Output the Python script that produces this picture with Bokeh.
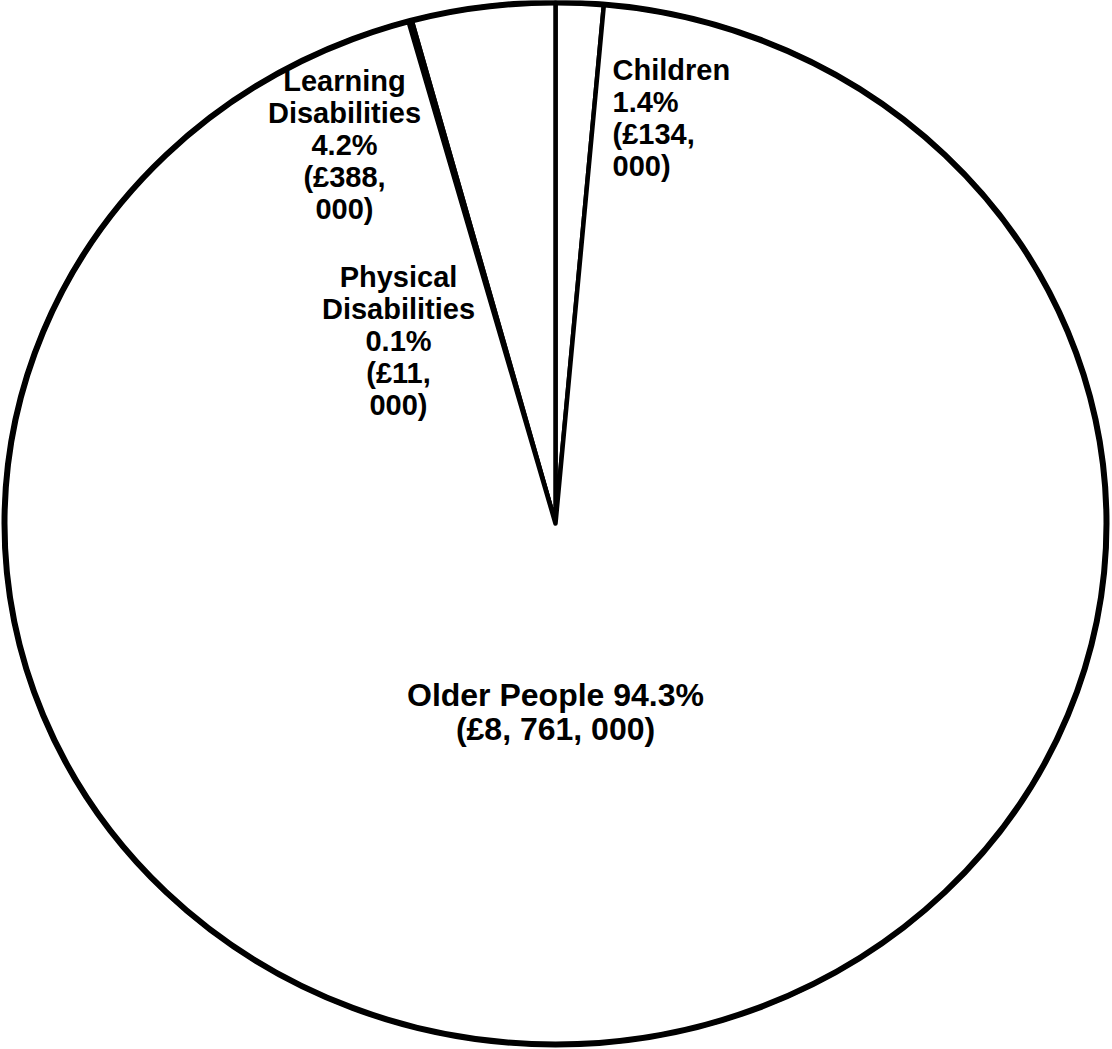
import numpy as np
from bokeh.plotting import figure
from bokeh.models import ColumnDataSource, Range1d
from bokeh.core.properties import value
from bokeh.embed import file_html
from bokeh.resources import INLINE

# Spend by client group
categories = ["Children", "Learning Disabilities", "Physical Disabilities", "Older People"]
shares = [1.4, 4.2, 0.1, 94.3]                 # percent of total
amounts = [134000, 388000, 11000, 8761000]     # pounds

# Canvas and pie geometry (pixels)
W, H = 1112, 1049
CX, CY = 555, 523        # pie centre, measured from top-left
RX, RY = 551, 521        # horizontal / vertical radius

def px(x):
    return (x - CX) / RX

def py(y):
    return (CY - y) / RY

# Label placement: anchor pixel, alignment, line spacing, font size
label_layout = {
    "Children": (612, 69, "left", 32, "29px"),
    "Learning Disabilities": (344, 80, "center", 32, "29px"),
    "Physical Disabilities": (398, 276, "center", 32, "29px"),
    "Older People": (555, 694, "center", 34, "32px"),
}

def money(v):
    return "£" + f"{v:,}".replace(",", ", ")

def label_lines(name, share, amount):
    if name == "Older People":
        return [f"{name} {share}%", f"({money(amount)})"]
    head, tail = money(amount).split(", ", 1)
    return name.split() + [f"{share}%", f"({head},", f"{tail})"]

# Wedge angles: Children ends at 12 o'clock, the rest run anticlockwise
deg = np.array(shares) * 3.6
start0 = 90.0 - deg[0]
ends = start0 + np.cumsum(deg)
starts = ends - deg

xs, ys = [], []
for a0, a1 in zip(np.radians(starts), np.radians(ends)):
    t = np.linspace(a0, a1, max(4, int(np.degrees(a1 - a0) * 2)))
    xs.append(np.concatenate([[0.0], np.cos(t), [0.0]]))
    ys.append(np.concatenate([[0.0], np.sin(t), [0.0]]))

p = figure(width=W, height=H, output_backend="svg", toolbar_location=None,
           x_range=Range1d(-CX / RX, (W - CX) / RX),
           y_range=Range1d(-(H - CY) / RY, CY / RY),
           x_axis_type=None, y_axis_type=None, min_border=0)
p.grid.visible = False
p.outline_line_color = None
p.background_fill_color = "white"
p.border_fill_color = "white"

src = ColumnDataSource(dict(xs=xs, ys=ys, cat=categories))
p.patches("xs", "ys", source=src, fill_color="white",
          line_color="black", line_width=4.5, line_join="round")

# Outer rim
p.ellipse(x=[0], y=[0], width=[2], height=[2], fill_color=None,
          line_color="black", line_width=6)

# Labels
for name, share, amount in zip(categories, shares, amounts):
    ax, ay, align, step, size = label_layout[name]
    lines = label_lines(name, share, amount)
    tx = [px(ax)] * len(lines)
    ty = [py(ay + i * step) for i in range(len(lines))]
    p.text(x=tx, y=ty, text=lines, text_font=value("Liberation Sans"),
           text_font_style="bold", text_font_size=size, text_color="black",
           text_align=align, text_baseline="middle")

open("out.html", "w").write(file_html(p, INLINE))
